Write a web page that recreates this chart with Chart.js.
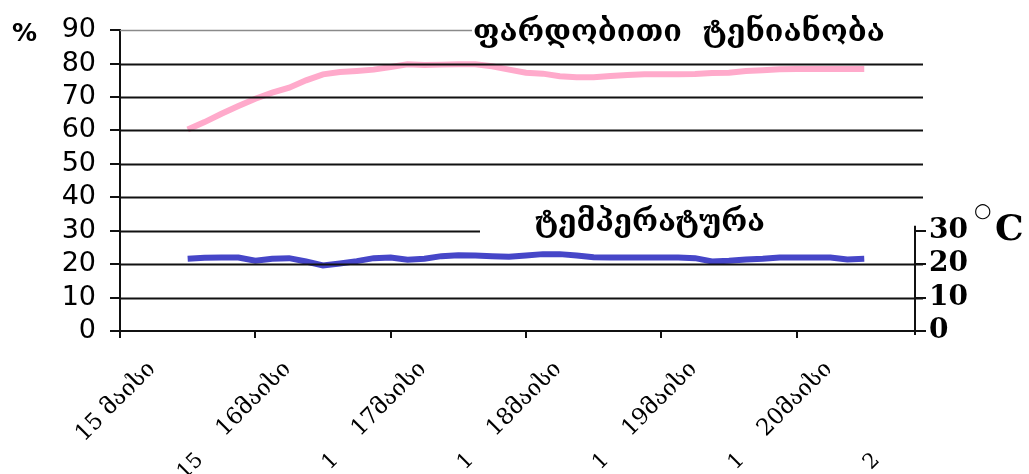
<!DOCTYPE html>
<html>
<head>
<meta charset="utf-8">
<script src="https://cdn.jsdelivr.net/npm/chart.js@4.4.1/dist/chart.umd.min.js"></script>
<style>
  html, body { margin: 0; padding: 0; background: #fff; overflow: hidden; }
  #wrap { width: 1029px; height: 474px; position: relative; }
</style>
</head>
<body>
<div id="wrap"><canvas id="c" width="1029" height="474"></canvas></div>
<script>
// Readings every 3 hours, counted from 15 May 00:00
const hours = [12, 15, 18, 21, 24, 27, 30, 33, 36, 39, 42, 45, 48, 51, 54, 57, 60, 63, 66, 69, 72,
               75, 78, 81, 84, 87, 90, 93, 96, 99, 102, 105, 108, 111, 114, 117, 120, 123, 126, 129, 132];

// Relative humidity, %
const humidity = [60.3, 62.5, 65.0, 67.3, 69.5, 71.3, 72.8, 75.0, 76.8, 77.5, 77.8, 78.2, 79.0, 79.8,
                  79.6, 79.7, 79.8, 79.8, 79.2, 78.2, 77.3, 77.0, 76.2, 75.9, 75.9, 76.3, 76.6, 76.8,
                  76.8, 76.8, 76.9, 77.2, 77.3, 77.8, 78.0, 78.3, 78.4, 78.4, 78.4, 78.4, 78.4];

// Air temperature, °C
const temperature = [21.6, 21.9, 22.0, 22.0, 21.0, 21.6, 21.8, 20.8, 19.6, 20.2, 20.9, 21.8, 22.0, 21.3,
                     21.6, 22.4, 22.7, 22.6, 22.4, 22.2, 22.6, 23.0, 23.0, 22.6, 22.1, 22.0, 22.0, 22.0,
                     22.0, 22.0, 21.8, 20.8, 21.0, 21.4, 21.6, 22.0, 22.0, 22.0, 22.0, 21.4, 21.6];

// Day boundaries on the time axis and their labels
const dayTicks = [0, 24, 48, 72, 96, 120];
const dayLabels = ['15 მაისი', '16მაისი', '17მაისი', '18მაისი', '19მაისი', '20მაისი'];
const dayStubs = ['15', '1', '1', '1', '1', '2'];

const humidityTicks = [0, 10, 20, 30, 40, 50, 60, 70, 80, 90];
const temperatureTicks = [0, 10, 20, 30];

const humidityTitle = 'ფარდობითი  ტენიანობა';
const temperatureTitle = 'ტემპერატურა';
const humidityUnit = '%';
const degreeMark = '○';
const celsiusMark = 'C';

const GEORGIAN_FONT = "'DejaVu Serif', 'DejaVu Sans', serif";
const LABEL_FONT = "'DejaVu Serif', serif";

// Draws text so that it spans the given width
function fitText(ctx, text, x, baseline, width, weight, family) {
  ctx.font = `${weight} 20px ${family}`;
  const w = ctx.measureText(text).width;
  const size = 20 * width / w;
  ctx.font = `${weight} ${size}px ${family}`;
  ctx.textAlign = 'left';
  ctx.textBaseline = 'alphabetic';
  ctx.fillText(text, x, baseline);
}

const decor = {
  id: 'decor',
  afterDatasetsDraw(chart) {
    const { ctx, chartArea, scales } = chart;
    const y = scales.y, x = scales.x;
    ctx.save();

    // horizontal grid lines, cut short where the series titles sit
    humidityTicks.forEach(v => {
      if (v === 0) return;
      const py = Math.round(y.getPixelForValue(v)) + 0.5;
      let x1 = chartArea.right + 8;
      let color = '#111';
      let lw = 2;
      if (v === 90) { x1 = 472; color = '#8a8a8a'; lw = 1.5; }
      if (v === 30) { x1 = 480; }
      ctx.strokeStyle = color;
      ctx.lineWidth = lw;
      ctx.beginPath();
      ctx.moveTo(chartArea.left, py);
      ctx.lineTo(x1, py);
      ctx.stroke();
    });

    // right temperature axis line, only over its 0–30 range
    const rx = chartArea.right;
    ctx.strokeStyle = '#111';
    ctx.lineWidth = 2;
    ctx.beginPath();
    ctx.moveTo(rx, y.getPixelForValue(30) - 5);
    ctx.lineTo(rx, y.getPixelForValue(0) + 4);
    ctx.stroke();

    ctx.fillStyle = '#000';
    // series titles
    fitText(ctx, humidityTitle, 473, 41, 412, 'bold', GEORGIAN_FONT);
    fitText(ctx, temperatureTitle, 535, 231, 230, 'bold', GEORGIAN_FONT);

    // unit marks
    ctx.font = "bold 25px 'DejaVu Sans', sans-serif";
    ctx.textAlign = 'left';
    ctx.textBaseline = 'alphabetic';
    ctx.fillText(humidityUnit, 12, 41);
    ctx.font = "20px 'DejaVu Sans', sans-serif";
    ctx.fillText(degreeMark, 974, 217);
    ctx.font = "bold 36px 'DejaVu Serif', serif";
    ctx.fillText(celsiusMark, 995, 240);

    // clipped second row of day labels
    ctx.font = `21px ${LABEL_FONT}`;
    ctx.textAlign = 'right';
    ctx.textBaseline = 'middle';
    dayTicks.forEach((h, i) => {
      const px = x.getPixelForValue(h) + 80;
      ctx.save();
      ctx.translate(px, 457);
      ctx.rotate(-Math.PI / 4);
      ctx.fillText(dayStubs[i], 0, 0);
      ctx.restore();
    });
    ctx.restore();
  }
};

new Chart(document.getElementById('c'), {
  type: 'line',
  data: {
    datasets: [
      {
        label: humidityTitle,
        data: hours.map((h, i) => ({ x: h, y: humidity[i] })),
        borderColor: '#ffaacb',
        borderWidth: 6,
        pointRadius: 0,
        tension: 0,
        yAxisID: 'y'
      },
      {
        label: temperatureTitle,
        data: hours.map((h, i) => ({ x: h, y: temperature[i] })),
        borderColor: '#4646c8',
        borderWidth: 6,
        pointRadius: 0,
        tension: 0,
        yAxisID: 'y2'
      }
    ]
  },
  options: {
    responsive: false,
    animation: false,
    devicePixelRatio: 1,
    layout: { padding: { top: 29, left: 0, right: 0, bottom: 0 } },
    plugins: { legend: { display: false }, tooltip: { enabled: false }, title: { display: false } },
    scales: {
      x: {
        type: 'linear',
        min: 0,
        max: 141,
        afterBuildTicks: s => { s.ticks = dayTicks.map(v => ({ value: v })); },
        afterFit: s => { s.height = 143; },
        grid: { drawOnChartArea: false, drawTicks: true, tickLength: 7, color: '#111', lineWidth: 2 },
        border: { color: '#111', width: 2 },
        ticks: {
          autoSkip: false,
          minRotation: 45,
          maxRotation: 45,
          labelOffset: 32,
          padding: 18,
          color: '#000',
          font: { family: LABEL_FONT, size: 23 },
          callback: v => { const i = dayTicks.indexOf(v); return i >= 0 ? dayLabels[i] : ''; }
        }
      },
      y: {
        position: 'left',
        min: 0,
        max: 90,
        afterBuildTicks: s => { s.ticks = humidityTicks.map(v => ({ value: v })); },
        afterFit: s => { s.width = 120; },
        grid: { drawOnChartArea: false, drawTicks: true, tickLength: 10, color: '#111', lineWidth: 2 },
        border: { color: '#111', width: 2 },
        ticks: { autoSkip: false, padding: 14, color: '#000', font: { family: "'DejaVu Sans', sans-serif", size: 27 } }
      },
      y2: {
        position: 'right',
        min: 0,
        max: 90,
        afterBuildTicks: s => { s.ticks = temperatureTicks.map(v => ({ value: v })); },
        afterFit: s => { s.width = 114; },
        grid: { drawOnChartArea: false, drawTicks: true, tickLength: 11, color: '#111', lineWidth: 2 },
        border: { display: false },
        ticks: { autoSkip: false, padding: 3, color: '#000', font: { family: "'DejaVu Serif', serif", size: 28, weight: 'bold' } }
      }
    }
  },
  plugins: [decor]
});
</script>
</body>
</html>
